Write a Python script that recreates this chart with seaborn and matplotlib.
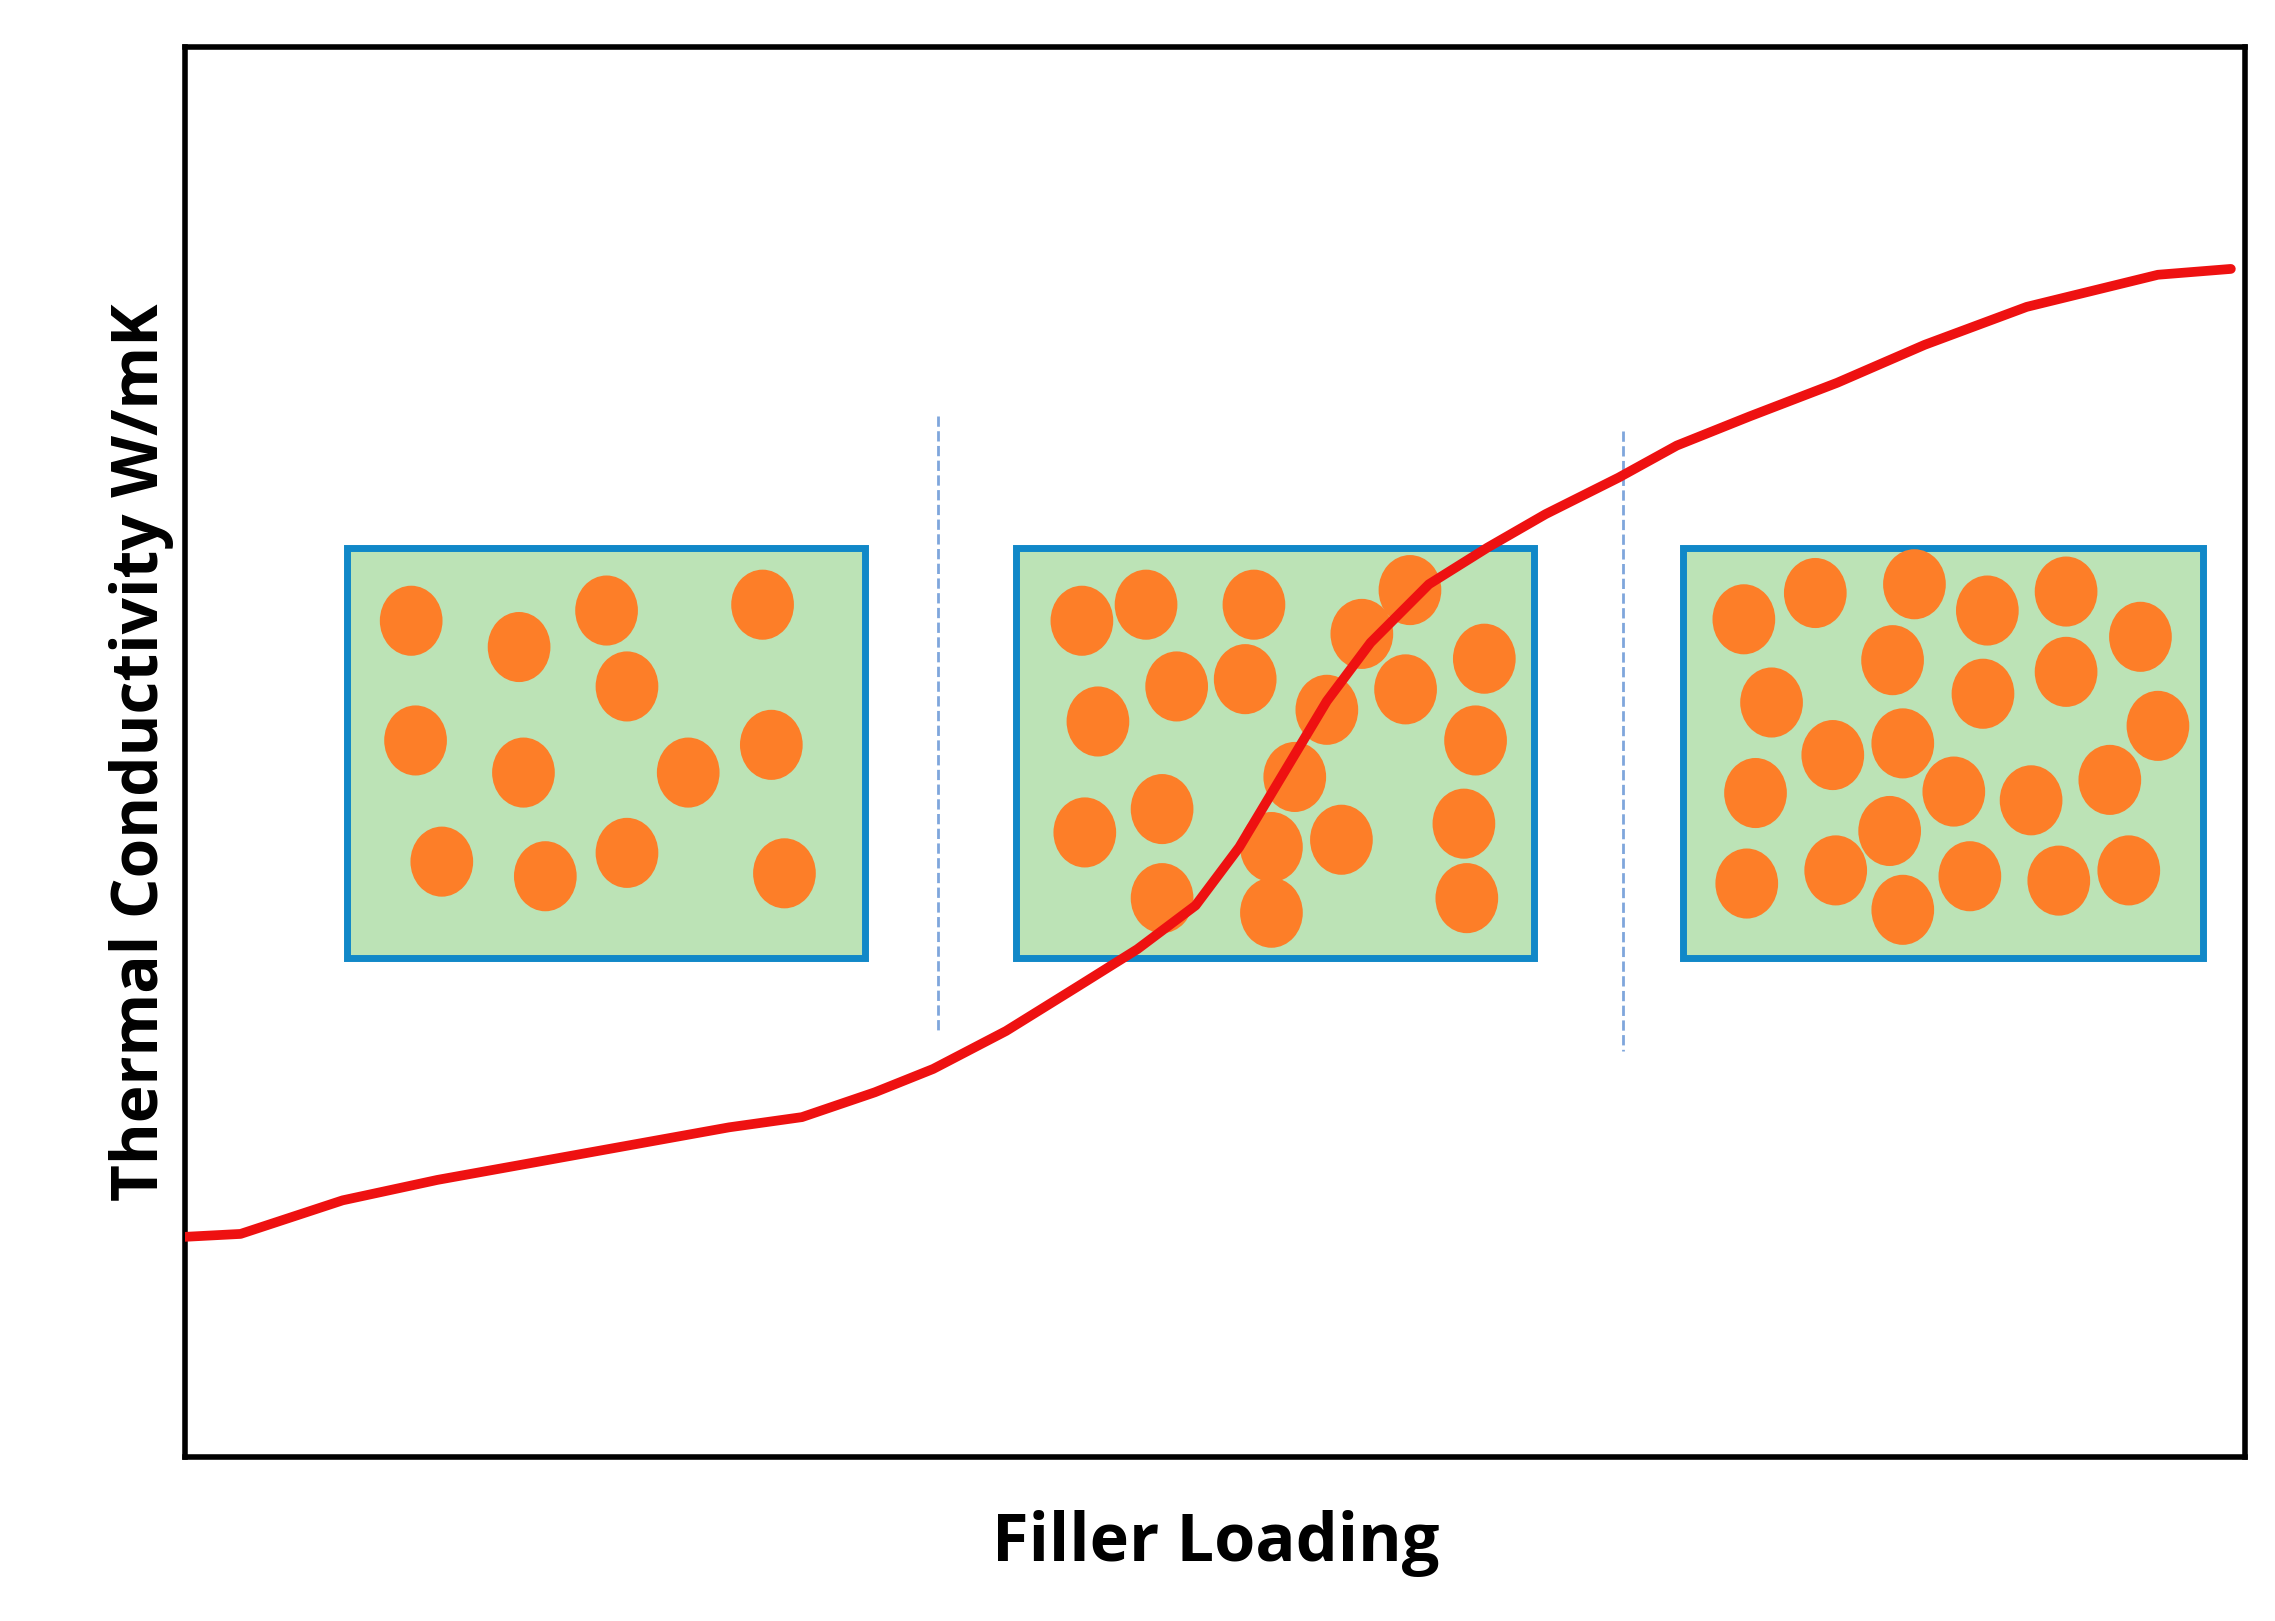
import numpy as np
import pandas as pd
import seaborn as sns
import matplotlib.pyplot as plt
from matplotlib.patches import Rectangle, Ellipse

# data in picture units (x right, y down), axes spans x 127..1540, y 32..998
curve_x = [127, 165, 235, 300, 400, 500, 550, 600, 640, 690, 740, 780, 820, 850,
           880, 910, 940, 980, 1020, 1060, 1110, 1150, 1200, 1260, 1320, 1390, 1480, 1530]
curve_y = [847, 845, 822, 808, 790, 772, 765, 748, 732, 706, 675, 650, 620, 580,
           530, 480, 440, 400, 375, 352, 327, 305, 285, 262, 236, 210, 188, 184]

box_left = [238, 697, 1154]
box_right = [593, 1052, 1511]
box_top = [375, 375, 375]
box_bottom = [656, 656, 656]

divider_x = [643, 1113]
divider_top = [285, 295]
divider_bottom = [708, 720]

circles_x = [282, 356, 416, 523, 430, 285, 359, 472, 529, 303, 374, 430, 538,
             742, 786, 860, 934, 967, 1018, 807, 854, 910, 964, 753, 1012, 888,
             744, 797, 872, 920, 1004, 797, 872, 1006,
             1196, 1245, 1313, 1363, 1417, 1468, 1298, 1417, 1215, 1360, 1480, 1257,
             1305, 1204, 1340, 1393, 1447, 1296, 1198, 1259, 1305, 1351, 1412, 1460]
circles_y = [425, 443, 418, 414, 470, 507, 529, 529, 510, 590, 600, 584, 598,
             425, 414, 414, 434, 404, 451, 470, 465, 486, 472, 494, 507, 532,
             570, 554, 580, 575, 564, 615, 625, 615,
             424, 406, 400, 418, 405, 436, 452, 460, 481, 475, 497, 517,
             509, 543, 542, 548, 534, 569, 605, 596, 623, 600, 603, 596]

sns.set_theme(style="white")
plt.rcParams['font.family'] = ['Open Sans', 'DejaVu Sans']

fig = plt.figure(figsize=(22.75, 16.21), dpi=100)
ax = fig.add_axes([0.0814, 0.101, 0.9056, 0.870])
ax.set_xlim(127, 1540)
ax.set_ylim(998, 32)

for l, r, t, b in zip(box_left, box_right, box_top, box_bottom):
    ax.add_patch(Rectangle((l, t), r - l, b - t, facecolor='#bce3b6',
                           edgecolor='#1188c8', linewidth=5, zorder=1))
for cx, cy in zip(circles_x, circles_y):
    ax.add_patch(Ellipse((cx, cy), 43, 48, facecolor='#fd7e28', edgecolor='none', zorder=2))
for dx, t, b in zip(divider_x, divider_top, divider_bottom):
    ax.plot([dx, dx], [t, b], color='#7fa6dc', linestyle='--', linewidth=2, zorder=1)

frame = pd.DataFrame({'x': curve_x, 'y': curve_y})
sns.lineplot(data=frame, x='x', y='y', color='#ee1111', linewidth=7, ax=ax, zorder=3,
             solid_joinstyle='round', solid_capstyle='round')

ax.set_xticks([])
ax.set_yticks([])
for s in ax.spines.values():
    s.set_color('black')
    s.set_linewidth(4)
ax.set_xlabel('Filler Loading', fontsize=48, fontweight='bold', labelpad=38, color='black')
ax.set_ylabel('Thermal Conductivity W/mK', fontsize=46, fontweight='bold', labelpad=8,
              color='black')

fig.savefig('out.png', dpi=100)
